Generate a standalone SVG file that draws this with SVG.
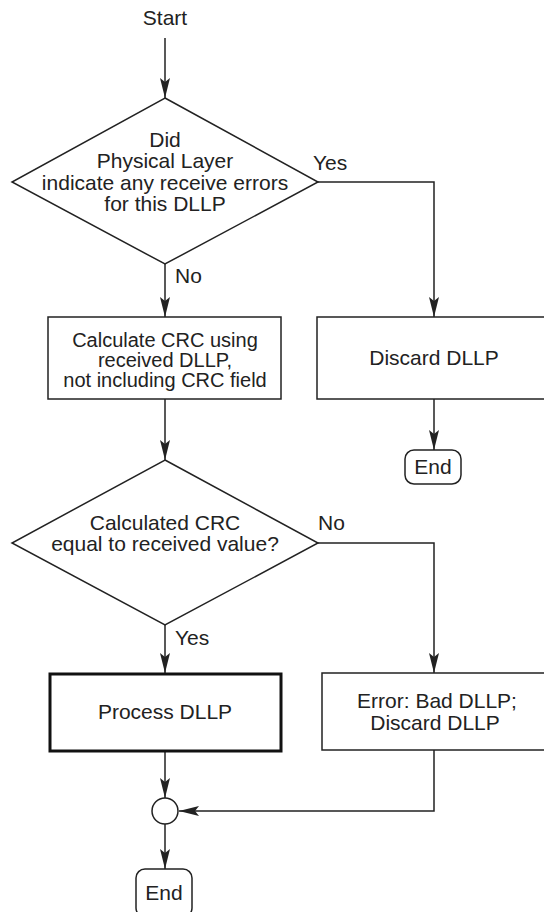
<svg xmlns="http://www.w3.org/2000/svg" width="544" height="912" viewBox="0 0 544 912">
<defs>
<marker id="arr" viewBox="0 0 20 10" markerWidth="20" markerHeight="10" refX="20" refY="5" orient="auto" markerUnits="userSpaceOnUse">
<path d="M0,0 L20,5 L0,10 L4,5 z" fill="#222"/>
</marker>
<style>
text{font-family:"Liberation Sans",Arial,sans-serif;font-size:21px;fill:#222;}
.c{text-anchor:middle;}
.s{font-size:20px;}
.shape{fill:#fff;stroke:#222;stroke-width:1.5;}
.thick{fill:#fff;stroke:#111;stroke-width:3;}
.line{fill:none;stroke:#222;stroke-width:1.5;}
</style>
</defs>
<rect width="544" height="912" fill="#fff"/>
<g id="connectors">
<path class="line" d="M165,38 V98" marker-end="url(#arr)"/>
<path class="line" d="M165,264 V317" marker-end="url(#arr)"/>
<path class="line" d="M318,182 H434 V317" marker-end="url(#arr)"/>
<path class="line" d="M434,399 V450" marker-end="url(#arr)"/>
<path class="line" d="M165,399 V460" marker-end="url(#arr)"/>
<path class="line" d="M318,543 H434 V673" marker-end="url(#arr)"/>
<path class="line" d="M165,625 V673" marker-end="url(#arr)"/>
<path class="line" d="M165,751 V798" marker-end="url(#arr)"/>
<path class="line" d="M434,750 V811 H179" marker-end="url(#arr)"/>
<path class="line" d="M165,824 V869" marker-end="url(#arr)"/>
<text x="313" y="170">Yes</text>
<text x="175" y="283">No</text>
<text x="318" y="530">No</text>
<text x="175" y="645">Yes</text>
</g>
<g id="start"><text class="c" x="165" y="25">Start</text></g>
<g id="decision1">
<polygon class="shape" points="165,98 318,182 165,264 12,182"/>
<text class="c" x="165" y="147">Did</text>
<text class="c" x="165" y="168">Physical Layer</text>
<text class="c" x="165" y="190">indicate any receive errors</text>
<text class="c" x="165" y="211">for this DLLP</text>
</g>
<g id="calc">
<rect class="shape" x="48" y="317" width="233" height="82"/>
<text class="c s" x="165" y="347">Calculate CRC using</text>
<text class="c s" x="165" y="367">received DLLP,</text>
<text class="c s" x="165" y="387">not including CRC field</text>
</g>
<g id="discard">
<rect class="shape" x="317" y="317" width="234" height="82"/>
<text class="c" x="434" y="365">Discard DLLP</text>
</g>
<g id="end1">
<rect class="shape" x="405" y="450" width="56" height="34" rx="9"/>
<text class="c" x="433" y="474">End</text>
</g>
<g id="decision2">
<polygon class="shape" points="165,460 318,543 165,625 12,543"/>
<text class="c" x="165" y="530">Calculated CRC</text>
<text class="c" x="165" y="551">equal to received value?</text>
</g>
<g id="process">
<rect class="thick" x="50" y="674" width="231" height="77"/>
<text class="c" x="165" y="719">Process DLLP</text>
</g>
<g id="error">
<rect class="shape" x="322" y="673" width="229" height="77"/>
<text class="c" x="437" y="708">Error: Bad DLLP;</text>
<text class="c" x="435" y="730">Discard DLLP</text>
</g>
<g id="merge"><circle class="shape" cx="165" cy="811" r="13"/></g>
<g id="end2">
<rect class="shape" x="136" y="869" width="56" height="48" rx="9"/>
<text class="c" x="164" y="900">End</text>
</g>
</svg>
